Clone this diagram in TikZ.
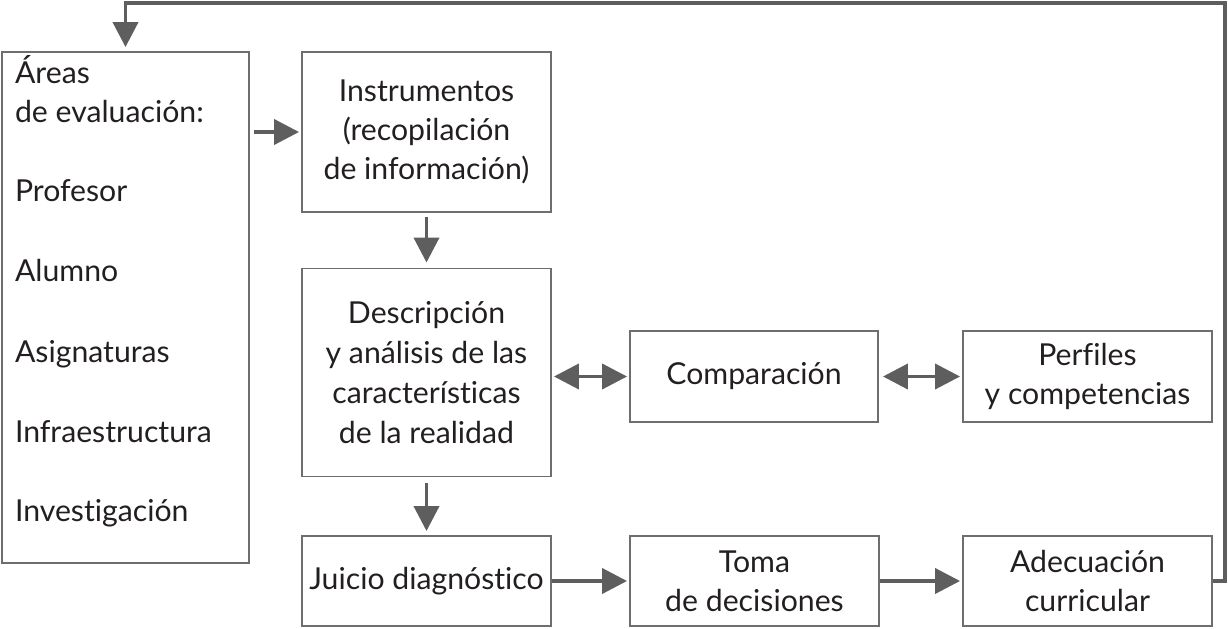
\documentclass[tikz,border=0pt]{standalone}
\usepackage{fontspec}
\setmainfont{Lato}[Ligatures={NoCommon,NoRare,NoContextual}]
\usetikzlibrary{arrows.meta,positioning}
\definecolor{boxgray}{HTML}{6E6E6E}
\definecolor{arrowgray}{HTML}{5E5E5E}
\definecolor{inkgray}{HTML}{231F20}

\begin{document}
\begin{tikzpicture}[x=0.02cm,y=-0.02cm,
    every node/.style={rectangle,draw=boxgray,line width=1.1pt,align=center,inner sep=2pt,
      text=inkgray,font=\fontsize{17.2}{22.2}\selectfont},
    flow/.style={draw=arrowgray,line width=2.2pt,-{Triangle[length=0.5cm,width=0.5cm]}},
    twoway/.style={flow,{Triangle[length=0.5cm,width=0.5cm]}-{Triangle[length=0.5cm,width=0.5cm]}}]
    \useasboundingbox (0,0) rectangle (1228,629);

    \node (areas) [minimum width=4.94cm,minimum height=10.22cm,
      label={[draw=none,align=left,anchor=north west,inner sep=0pt,xshift=0.26cm,yshift=-0.06cm]north west:{%
        Áreas\\de evaluación:\\[0.8cm]Profesor\\[0.82cm]Alumno\\[0.84cm]Asignaturas\\[0.82cm]Infraestructura\\[0.8cm]Investigación}}]
      at (125.5,307.5) {};

    \node (instr) [minimum width=4.98cm,minimum height=3.2cm] at (426.5,132) {Instrumentos\\(recopilación\\de información)};
    \node (desc) [minimum width=4.98cm,minimum height=4.16cm,font=\fontsize{17.2}{22.8}\selectfont] at (426.5,372.5) {Descripción\\y análisis de las\\características\\de la realidad};
    \node (comp) [minimum width=4.96cm,minimum height=1.82cm] at (754,376.5) {Comparación};
    \node (perf) [minimum width=4.98cm,minimum height=1.82cm] at (1087.5,376.5) {Perfiles\\y competencias};

    \node (juicio) [minimum width=4.98cm,minimum height=1.8cm] at (426.5,581) {Juicio diagnóstico};
    \node (toma) [minimum width=4.98cm,minimum height=1.8cm] at (754.5,581) {Toma\\de decisiones};
    \node (adec) [minimum width=4.98cm,minimum height=1.8cm] at (1087.5,581) {Adecuación\\curricular};

    \coordinate (top) at (1225,3);

  \draw[flow,shorten <=0.08cm,shorten >=0.04cm] (areas.east |- instr) -- (instr);
  \draw[flow,shorten <=0.08cm,shorten >=0.1cm] (instr) -- (desc);
  \draw[flow,shorten <=0.12cm,shorten >=0.08cm] (desc) -- (juicio);

  \draw[twoway,shorten <=0.04cm,shorten >=0.04cm] (desc.east |- comp) -- (comp);
  \draw[twoway,shorten <=0.08cm,shorten >=0.04cm] (comp) -- (perf);

  \draw[flow,shorten >=0.04cm] (juicio) -- (toma);
  \draw[flow,shorten >=0.04cm] (toma) -- (adec);
  \draw[flow,shorten >=0.08cm] (adec.east) -| (top) -| (areas.north);
\end{tikzpicture}
\end{document}
